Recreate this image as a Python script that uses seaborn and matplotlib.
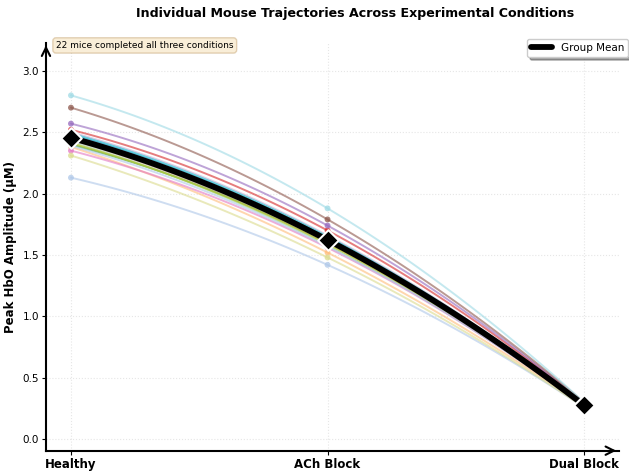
import numpy as np
import pandas as pd
import matplotlib
matplotlib.use("Agg")
import matplotlib.pyplot as plt
import seaborn as sns

conditions = ["Healthy", "ACh Block", "Dual Block"]
healthy = [2.48, 2.13, 2.44, 2.38, 2.40, 2.42, 2.52, 2.46, 2.57, 2.50, 2.70,
           2.44, 2.35, 2.45, 2.47, 2.43, 2.41, 2.31, 2.49, 2.80, 2.46, 2.39]
ach_block = [1.64, 1.42, 1.60, 1.52, 1.60, 1.58, 1.70, 1.64, 1.74, 1.66, 1.79,
             1.61, 1.56, 1.62, 1.63, 1.60, 1.59, 1.48, 1.65, 1.88, 1.62, 1.57]
dual_block = [0.28, 0.26, 0.27, 0.27, 0.28, 0.27, 0.29, 0.28, 0.29, 0.28, 0.30,
              0.27, 0.27, 0.27, 0.28, 0.27, 0.27, 0.26, 0.28, 0.30, 0.28, 0.27]
n_mice = len(healthy)
annotation = f"{n_mice} mice completed all three conditions"

sns.set_theme(style="white")
plt.rcParams['font.family'] = ['DejaVu Sans']
for k in ["text.color", "axes.labelcolor", "xtick.color", "ytick.color"]:
    plt.rcParams[k] = "black"

fig = plt.figure(figsize=(6.29, 4.74), dpi=100)
ax = fig.add_axes([0.0731, 0.0492, 0.911, 0.861])

palette = sns.color_palette("tab20", 20)
xs = np.arange(3)
xfine = np.linspace(0, 2, 100)

for i in range(n_mice):
    vals = np.array([healthy[i], ach_block[i], dual_block[i]])
    coef = np.polyfit(xs, vals, 2)
    df = pd.DataFrame({"x": xfine, "y": np.polyval(coef, xfine)})
    col = palette[i % 20]
    sns.lineplot(data=df, x="x", y="y", ax=ax, color=col, alpha=0.6, lw=1.4,
                 zorder=2, legend=False)
    sns.scatterplot(x=xs, y=vals, ax=ax, color=col, alpha=0.75, s=18,
                    edgecolor="none", zorder=3, legend=False)

mean_vals = np.array([np.mean(healthy), np.mean(ach_block), np.mean(dual_block)])
coef = np.polyfit(xs, mean_vals, 2)
dfm = pd.DataFrame({"x": xfine, "y": np.polyval(coef, xfine)})
sns.lineplot(data=dfm, x="x", y="y", ax=ax, color="black", lw=4.2, zorder=5,
             label="Group Mean")
ax.scatter(xs, mean_vals, marker="D", s=110, color="black", edgecolor="white",
           linewidth=1.5, zorder=6)

ax.set_xlim(-0.0974, 2.136)
ax.set_ylim(-0.093, 3.23)
ax.set_xticks(xs)
ax.set_xticklabels(conditions, fontsize=8.5, fontweight="bold")
ax.set_yticks([0, 0.5, 1.0, 1.5, 2.0, 2.5, 3.0])
ax.set_yticklabels([f"{v:.1f}" for v in [0, 0.5, 1.0, 1.5, 2.0, 2.5, 3.0]], fontsize=7.5)
ax.tick_params(axis="both", length=3, width=0.8, pad=2, bottom=True, left=True,
               colors="black")
ax.set_xlabel("")
ax.set_ylabel("Peak HbO Amplitude (μM)", fontsize=8.5, fontweight="bold", labelpad=4,
              color="black")
ax.grid(True, color="#e6e6e6", linestyle=":", linewidth=0.8)

for s in ["top", "right"]:
    ax.spines[s].set_visible(False)
for s in ["left", "bottom"]:
    ax.spines[s].set_color("black")
    ax.spines[s].set_linewidth(1.5)
ax.annotate("", xy=(1.0, 0), xytext=(0.98, 0), xycoords="axes fraction",
            arrowprops=dict(arrowstyle="->", color="black", lw=1.5, mutation_scale=15))
ax.annotate("", xy=(0, 1.0), xytext=(0, 0.98), xycoords="axes fraction",
            arrowprops=dict(arrowstyle="->", color="black", lw=1.5, mutation_scale=15))

ax.text(0.0175, 1.004, annotation, transform=ax.transAxes, fontsize=6.5,
        va="top", ha="left", color="black", zorder=10,
        bbox=dict(boxstyle="round,pad=0.35", facecolor="wheat", alpha=0.5,
                  edgecolor="#c8a878"))

leg = ax.legend(loc="upper right", fontsize=7.5, frameon=True, shadow=True,
                fancybox=True, bbox_to_anchor=(1.016, 1.009), borderaxespad=0)
for t in leg.get_texts():
    t.set_color("black")

fig.text(355 / 629, 1 - 13 / 474, "Individual Mouse Trajectories Across Experimental Conditions",
         ha="center", va="center", fontsize=9.1, fontweight="bold", color="black")

fig.savefig("out.png", dpi=100)
